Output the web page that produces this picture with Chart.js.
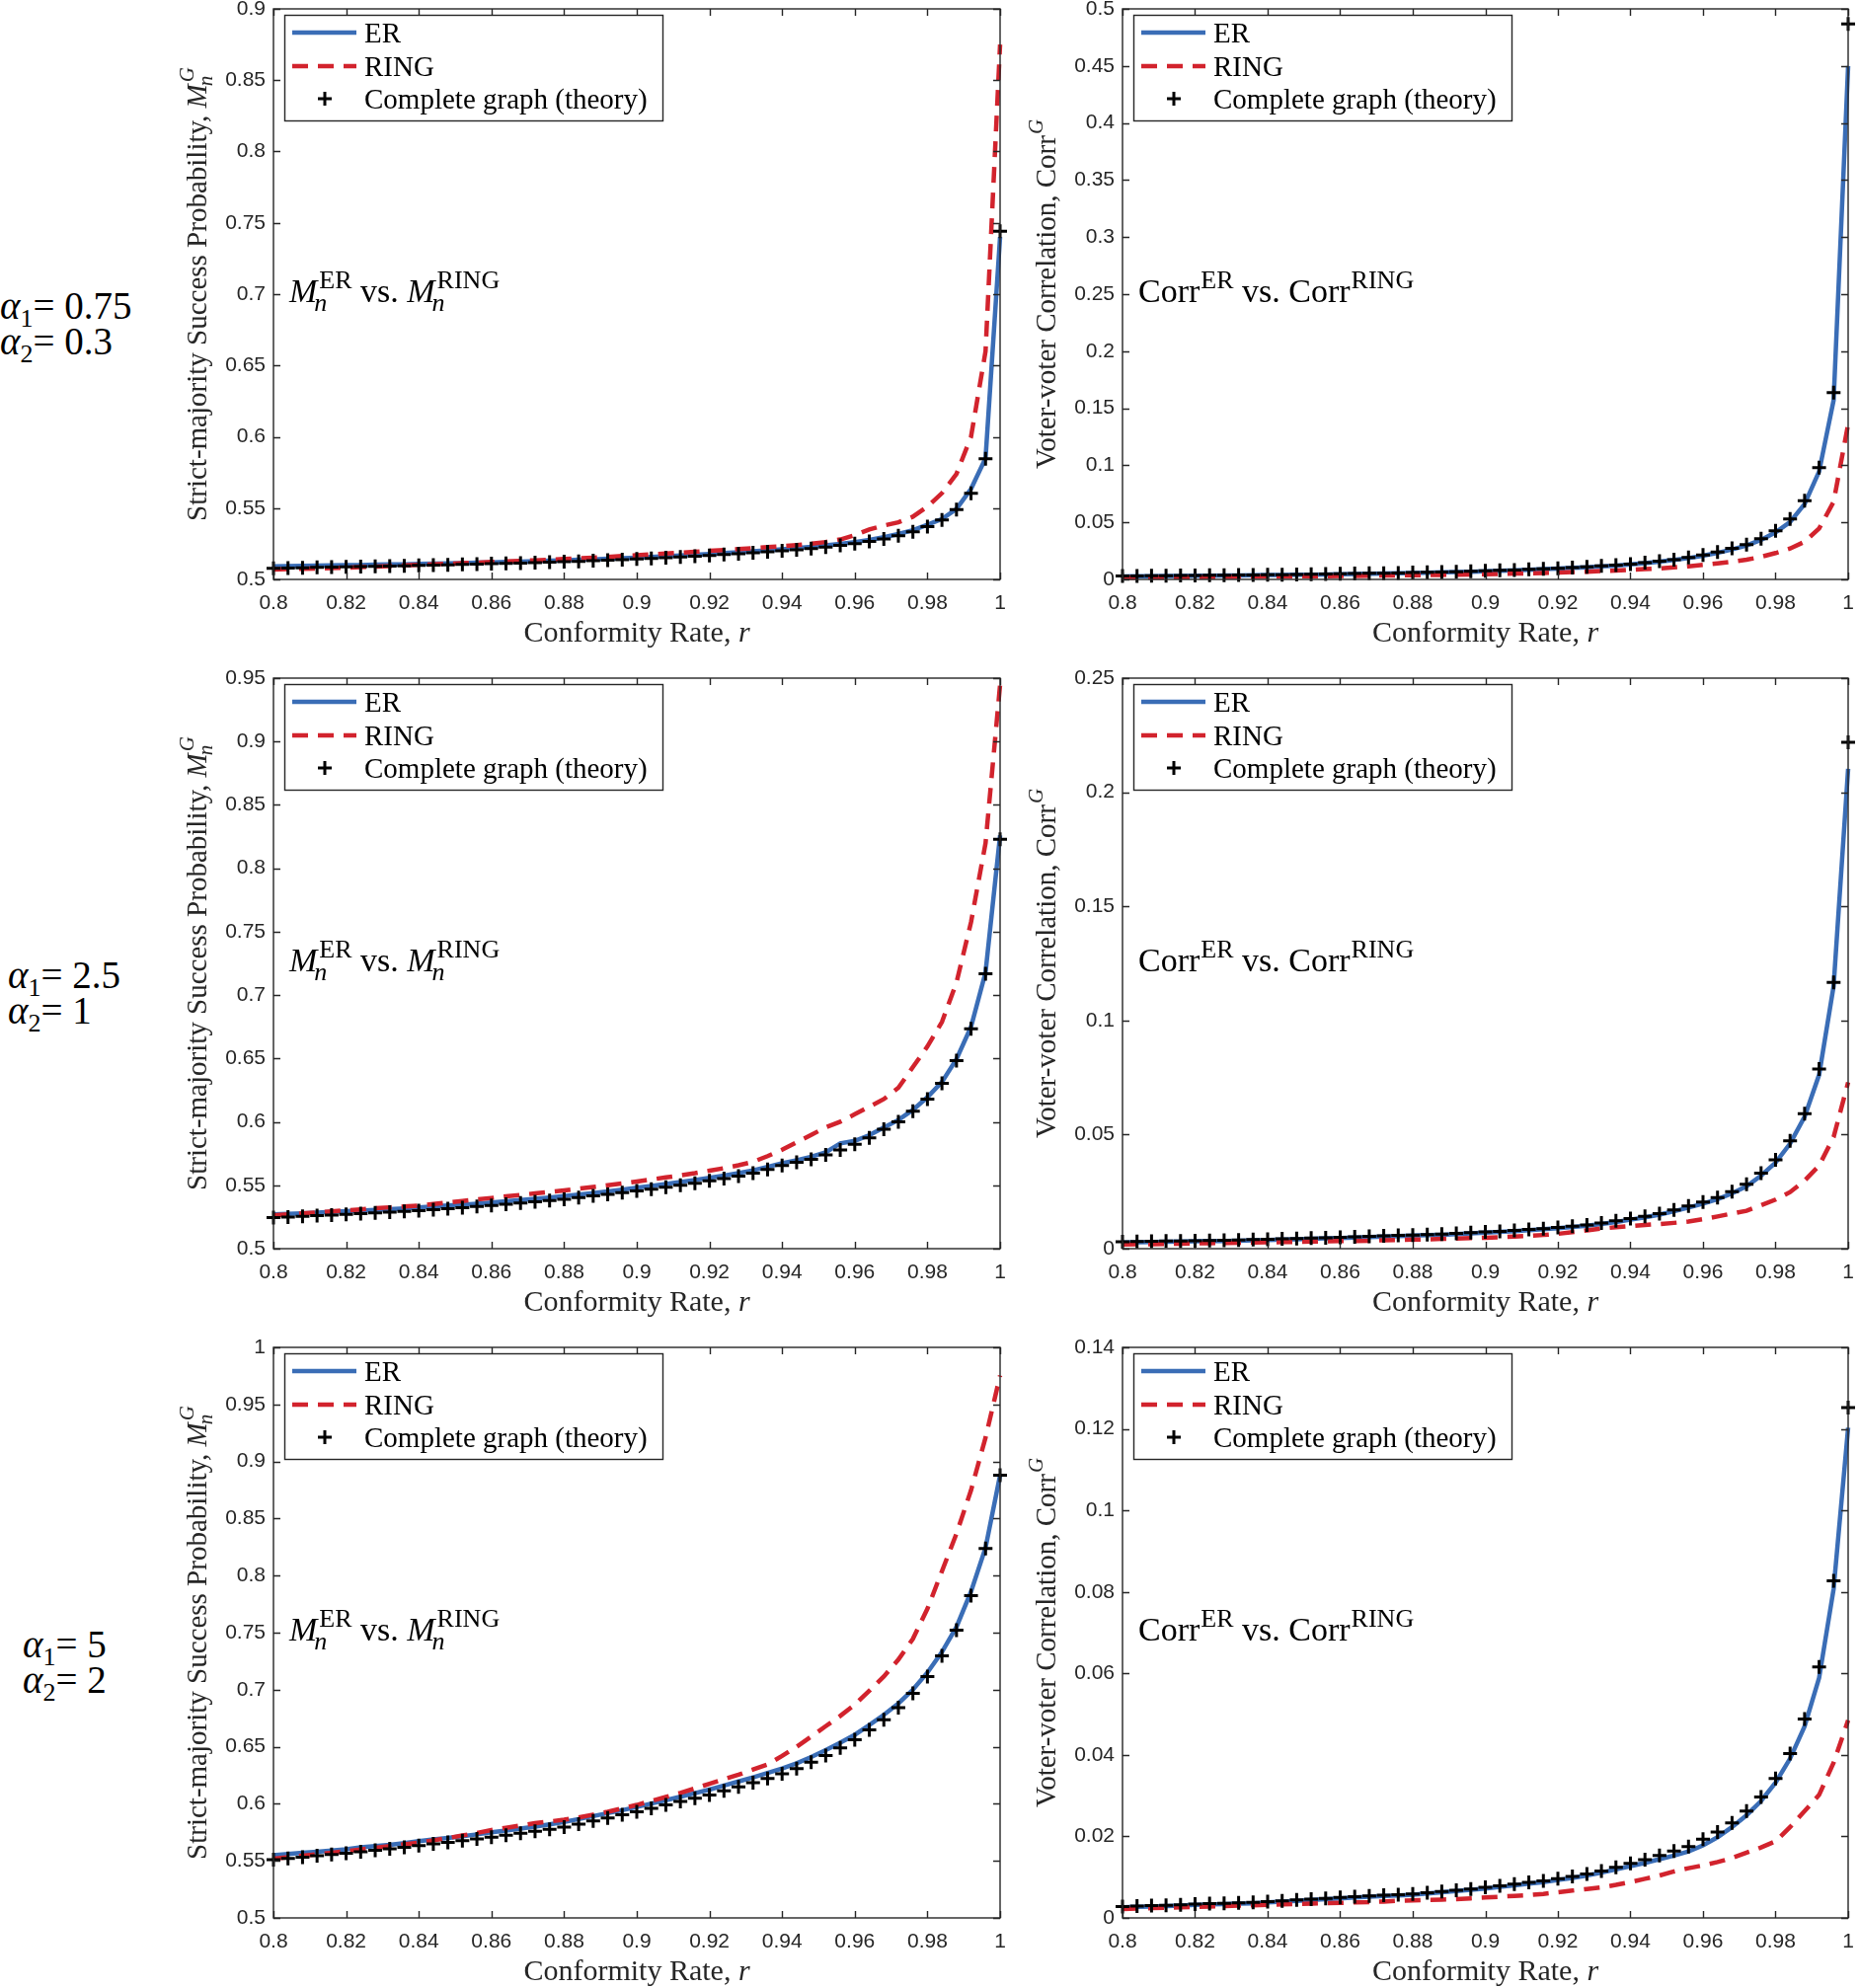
<!DOCTYPE html>
<html>
<head>
<meta charset="utf-8">
<script src="https://cdn.jsdelivr.net/npm/chart.js@4.4.1/dist/chart.umd.min.js"></script>
<style>
html, body { margin: 0; padding: 0; background: #fff; width: 1883px; height: 2014px; overflow: hidden; }
.panel { position: absolute; }
.alab { position: absolute; font-family: 'Liberation Serif', 'Times New Roman', serif; font-size: 39px; line-height: 36px; color: #000; white-space: nowrap; }
.alab sub { font-size: 26px; vertical-align: baseline; position: relative; top: 8px; }
</style>
</head>
<body>
<div class="alab" style="left:0px;top:292px"><i>α</i><sub>1</sub>= 0.75</div>
<div class="alab" style="left:0px;top:328px"><i>α</i><sub>2</sub>= 0.3</div>
<div class="alab" style="left:8px;top:970px"><i>α</i><sub>1</sub>= 2.5</div>
<div class="alab" style="left:8px;top:1006px"><i>α</i><sub>2</sub>= 1</div>
<div class="alab" style="left:23px;top:1648px"><i>α</i><sub>1</sub>= 5</div>
<div class="alab" style="left:23px;top:1684px"><i>α</i><sub>2</sub>= 2</div>

<div class="panel" id="p0"><canvas id="c0"></canvas></div>
<div class="panel" id="p1"><canvas id="c1"></canvas></div>
<div class="panel" id="p2"><canvas id="c2"></canvas></div>
<div class="panel" id="p3"><canvas id="c3"></canvas></div>
<div class="panel" id="p4"><canvas id="c4"></canvas></div>
<div class="panel" id="p5"><canvas id="c5"></canvas></div>

<script>
// conformity rate r, one point every 0.004
const rValues = [
  0.800, 0.804, 0.808, 0.812, 0.816, 0.820, 0.824, 0.828, 0.832, 0.836,
  0.840, 0.844, 0.848, 0.852, 0.856, 0.860, 0.864, 0.868, 0.872, 0.876,
  0.880, 0.884, 0.888, 0.892, 0.896, 0.900, 0.904, 0.908, 0.912, 0.916,
  0.920, 0.924, 0.928, 0.932, 0.936, 0.940, 0.944, 0.948, 0.952, 0.956,
  0.960, 0.964, 0.968, 0.972, 0.976, 0.980, 0.984, 0.988, 0.992, 0.996,
  1.000];

const xTicks = [0.8, 0.82, 0.84, 0.86, 0.88, 0.9, 0.92, 0.94, 0.96, 0.98, 1];
const xTickLabels = ['0.8', '0.82', '0.84', '0.86', '0.88', '0.9', '0.92', '0.94', '0.96', '0.98', '1'];

// alpha1 = 0.75, alpha2 = 0.3
const mER1 = [
  0.5092, 0.5093, 0.5095, 0.5097, 0.5098, 0.5100, 0.5101, 0.5103, 0.5105, 0.5106,
  0.5109, 0.5110, 0.5112, 0.5115, 0.5117, 0.5120, 0.5122, 0.5125, 0.5128, 0.5131,
  0.5134, 0.5138, 0.5141, 0.5145, 0.5149, 0.5153, 0.5158, 0.5163, 0.5168, 0.5173,
  0.5179, 0.5185, 0.5191, 0.5197, 0.5204, 0.5211, 0.5219, 0.5228, 0.5238, 0.5249,
  0.5262, 0.5277, 0.5296, 0.5318, 0.5345, 0.5383, 0.5423, 0.5494, 0.5635, 0.5850,
  0.7400];
const mRING1 = [
  0.5070, 0.5072, 0.5074, 0.5077, 0.5080, 0.5083, 0.5086, 0.5090, 0.5094, 0.5098,
  0.5102, 0.5106, 0.5110, 0.5114, 0.5118, 0.5122, 0.5126, 0.5130, 0.5134, 0.5138,
  0.5143, 0.5148, 0.5153, 0.5158, 0.5164, 0.5170, 0.5176, 0.5182, 0.5188, 0.5194,
  0.5200, 0.5206, 0.5212, 0.5219, 0.5226, 0.5233, 0.5241, 0.5250, 0.5262, 0.5280,
  0.5310, 0.5350, 0.5378, 0.5400, 0.5440, 0.5510, 0.5605, 0.5740, 0.6000, 0.6600,
  0.8750];
const mTheory1 = [
  0.5078, 0.5080, 0.5082, 0.5084, 0.5086, 0.5088, 0.5090, 0.5092, 0.5094, 0.5096,
  0.5098, 0.5100, 0.5102, 0.5105, 0.5107, 0.5110, 0.5112, 0.5115, 0.5118, 0.5121,
  0.5124, 0.5127, 0.5131, 0.5135, 0.5139, 0.5143, 0.5147, 0.5152, 0.5157, 0.5162,
  0.5168, 0.5174, 0.5180, 0.5186, 0.5193, 0.5200, 0.5208, 0.5217, 0.5227, 0.5238,
  0.5251, 0.5266, 0.5284, 0.5306, 0.5334, 0.5370, 0.5417, 0.5489, 0.5603, 0.5846,
  0.7442];
const cER1 = [
  0.0027, 0.0028, 0.0029, 0.0030, 0.0031, 0.0032, 0.0033, 0.0034, 0.0035, 0.0036,
  0.0038, 0.0039, 0.0041, 0.0042, 0.0044, 0.0046, 0.0048, 0.0050, 0.0052, 0.0054,
  0.0057, 0.0059, 0.0062, 0.0065, 0.0068, 0.0072, 0.0076, 0.0080, 0.0085, 0.0090,
  0.0095, 0.0101, 0.0107, 0.0114, 0.0122, 0.0131, 0.0142, 0.0155, 0.0170, 0.0187,
  0.0208, 0.0233, 0.0263, 0.0298, 0.0347, 0.0413, 0.0503, 0.0661, 0.0946, 0.1570,
  0.4500];
const cRING1 = [
  0.0015, 0.0016, 0.0017, 0.0018, 0.0019, 0.0020, 0.0021, 0.0022, 0.0023, 0.0024,
  0.0025, 0.0026, 0.0027, 0.0028, 0.0029, 0.0030, 0.0031, 0.0033, 0.0034, 0.0035,
  0.0037, 0.0038, 0.0040, 0.0042, 0.0044, 0.0046, 0.0048, 0.0051, 0.0054, 0.0057,
  0.0060, 0.0064, 0.0068, 0.0073, 0.0078, 0.0084, 0.0090, 0.0097, 0.0105, 0.0115,
  0.0127, 0.0140, 0.0155, 0.0173, 0.0198, 0.0231, 0.0271, 0.0330, 0.0446, 0.0680,
  0.1360];
const cTheory1 = [
  0.0030, 0.0031, 0.0032, 0.0033, 0.0034, 0.0035, 0.0036, 0.0037, 0.0038, 0.0039,
  0.0041, 0.0042, 0.0044, 0.0045, 0.0047, 0.0049, 0.0051, 0.0053, 0.0055, 0.0057,
  0.0060, 0.0062, 0.0065, 0.0068, 0.0071, 0.0075, 0.0079, 0.0083, 0.0088, 0.0093,
  0.0098, 0.0104, 0.0111, 0.0118, 0.0126, 0.0135, 0.0146, 0.0159, 0.0174, 0.0192,
  0.0214, 0.0240, 0.0272, 0.0305, 0.0357, 0.0425, 0.0530, 0.0690, 0.0980, 0.1637,
  0.4868];

// alpha1 = 2.5, alpha2 = 1
const mER2 = [
  0.5270, 0.5274, 0.5279, 0.5284, 0.5290, 0.5295, 0.5300, 0.5306, 0.5312, 0.5318,
  0.5325, 0.5332, 0.5340, 0.5347, 0.5355, 0.5364, 0.5373, 0.5383, 0.5393, 0.5403,
  0.5414, 0.5426, 0.5439, 0.5452, 0.5466, 0.5480, 0.5495, 0.5510, 0.5526, 0.5542,
  0.5558, 0.5576, 0.5596, 0.5618, 0.5645, 0.5673, 0.5698, 0.5725, 0.5760, 0.5830,
  0.5850, 0.5895, 0.5955, 0.6015, 0.6095, 0.6195, 0.6315, 0.6495, 0.6750, 0.7180,
  0.8260];
const mRING2 = [
  0.5262, 0.5270, 0.5278, 0.5286, 0.5294, 0.5302, 0.5310, 0.5318, 0.5326, 0.5333,
  0.5340, 0.5352, 0.5364, 0.5376, 0.5388, 0.5400, 0.5412, 0.5424, 0.5436, 0.5448,
  0.5460, 0.5473, 0.5486, 0.5500, 0.5514, 0.5530, 0.5546, 0.5562, 0.5578, 0.5595,
  0.5615, 0.5635, 0.5658, 0.5685, 0.5730, 0.5780, 0.5840, 0.5897, 0.5957, 0.6001,
  0.6060, 0.6120, 0.6180, 0.6269, 0.6432, 0.6595, 0.6788, 0.7100, 0.7575, 0.8199,
  0.9447];
const mTheory2 = [
  0.5245, 0.5250, 0.5255, 0.5260, 0.5265, 0.5270, 0.5276, 0.5282, 0.5288, 0.5294,
  0.5300, 0.5308, 0.5316, 0.5324, 0.5332, 0.5340, 0.5350, 0.5360, 0.5370, 0.5380,
  0.5390, 0.5403, 0.5416, 0.5429, 0.5442, 0.5455, 0.5470, 0.5485, 0.5500, 0.5515,
  0.5535, 0.5553, 0.5572, 0.5595, 0.5625, 0.5655, 0.5682, 0.5705, 0.5740, 0.5779,
  0.5823, 0.5874, 0.5942, 0.6001, 0.6085, 0.6180, 0.6304, 0.6483, 0.6735, 0.7169,
  0.8229];
const cER2 = [
  0.0027, 0.0028, 0.0029, 0.0030, 0.0031, 0.0032, 0.0033, 0.0034, 0.0035, 0.0037,
  0.0038, 0.0040, 0.0041, 0.0043, 0.0045, 0.0047, 0.0049, 0.0051, 0.0053, 0.0055,
  0.0057, 0.0059, 0.0061, 0.0064, 0.0067, 0.0070, 0.0073, 0.0077, 0.0081, 0.0085,
  0.0090, 0.0095, 0.0101, 0.0108, 0.0117, 0.0127, 0.0137, 0.0149, 0.0164, 0.0180,
  0.0197, 0.0217, 0.0242, 0.0273, 0.0320, 0.0377, 0.0460, 0.0578, 0.0762, 0.1151,
  0.2103];
const cRING2 = [
  0.0018, 0.0019, 0.0020, 0.0021, 0.0022, 0.0023, 0.0024, 0.0025, 0.0026, 0.0027,
  0.0028, 0.0029, 0.0030, 0.0031, 0.0032, 0.0033, 0.0034, 0.0035, 0.0037, 0.0038,
  0.0040, 0.0041, 0.0043, 0.0044, 0.0046, 0.0048, 0.0050, 0.0053, 0.0056, 0.0060,
  0.0065, 0.0072, 0.0080, 0.0088, 0.0094, 0.0099, 0.0104, 0.0108, 0.0113, 0.0119,
  0.0129, 0.0141, 0.0154, 0.0166, 0.0190, 0.0215, 0.0248, 0.0298, 0.0364, 0.0489,
  0.0729];
const cTheory2 = [
  0.0030, 0.0031, 0.0032, 0.0033, 0.0034, 0.0035, 0.0036, 0.0037, 0.0038, 0.0040,
  0.0041, 0.0043, 0.0044, 0.0046, 0.0048, 0.0050, 0.0052, 0.0054, 0.0056, 0.0058,
  0.0060, 0.0062, 0.0064, 0.0067, 0.0070, 0.0073, 0.0076, 0.0080, 0.0084, 0.0088,
  0.0093, 0.0098, 0.0104, 0.0112, 0.0122, 0.0132, 0.0142, 0.0154, 0.0170, 0.0187,
  0.0204, 0.0224, 0.0250, 0.0282, 0.0331, 0.0389, 0.0472, 0.0591, 0.0787, 0.1167,
  0.2219];

// alpha1 = 5, alpha2 = 2
const mER3 = [
  0.5550, 0.5560, 0.5570, 0.5580, 0.5590, 0.5602, 0.5618, 0.5630, 0.5641, 0.5655,
  0.5672, 0.5687, 0.5700, 0.5715, 0.5732, 0.5750, 0.5766, 0.5783, 0.5800, 0.5820,
  0.5842, 0.5866, 0.5892, 0.5918, 0.5944, 0.5972, 0.6002, 0.6032, 0.6062, 0.6093,
  0.6125, 0.6160, 0.6196, 0.6232, 0.6270, 0.6310, 0.6355, 0.6410, 0.6470, 0.6535,
  0.6605, 0.6690, 0.6780, 0.6880, 0.7000, 0.7150, 0.7330, 0.7550, 0.7860, 0.8245,
  0.8880];
const mRING3 = [
  0.5520, 0.5532, 0.5545, 0.5558, 0.5571, 0.5585, 0.5600, 0.5615, 0.5630, 0.5645,
  0.5660, 0.5680, 0.5700, 0.5722, 0.5745, 0.5770, 0.5790, 0.5810, 0.5830, 0.5845,
  0.5860, 0.5880, 0.5905, 0.5930, 0.5960, 0.5990, 0.6025, 0.6060, 0.6095, 0.6135,
  0.6175, 0.6215, 0.6255, 0.6300, 0.6345, 0.6420, 0.6500, 0.6589, 0.6680, 0.6770,
  0.6869, 0.6990, 0.7116, 0.7264, 0.7446, 0.7709, 0.8039, 0.8368, 0.8748, 0.9209,
  0.9753];
const mTheory3 = [
  0.5511, 0.5522, 0.5533, 0.5544, 0.5555, 0.5567, 0.5580, 0.5593, 0.5606, 0.5619,
  0.5633, 0.5648, 0.5662, 0.5677, 0.5692, 0.5707, 0.5724, 0.5741, 0.5759, 0.5777,
  0.5796, 0.5822, 0.5849, 0.5876, 0.5903, 0.5930, 0.5960, 0.5990, 0.6020, 0.6049,
  0.6078, 0.6113, 0.6148, 0.6185, 0.6222, 0.6262, 0.6308, 0.6365, 0.6424, 0.6490,
  0.6562, 0.6648, 0.6737, 0.6842, 0.6968, 0.7116, 0.7297, 0.7521, 0.7825, 0.8237,
  0.8879];
const cER3 = [
  0.0026, 0.0027, 0.0028, 0.0029, 0.0030, 0.0032, 0.0033, 0.0034, 0.0035, 0.0036,
  0.0038, 0.0040, 0.0042, 0.0044, 0.0046, 0.0048, 0.0050, 0.0052, 0.0054, 0.0055,
  0.0057, 0.0060, 0.0063, 0.0066, 0.0069, 0.0072, 0.0076, 0.0080, 0.0084, 0.0088,
  0.0093, 0.0098, 0.0104, 0.0111, 0.0119, 0.0127, 0.0135, 0.0144, 0.0153, 0.0163,
  0.0178, 0.0198, 0.0223, 0.0252, 0.0287, 0.0332, 0.0391, 0.0470, 0.0589, 0.0807,
  0.1203];
const cRING3 = [
  0.0022, 0.0023, 0.0024, 0.0025, 0.0026, 0.0027, 0.0028, 0.0029, 0.0030, 0.0031,
  0.0032, 0.0033, 0.0034, 0.0035, 0.0036, 0.0037, 0.0038, 0.0039, 0.0040, 0.0042,
  0.0043, 0.0044, 0.0045, 0.0046, 0.0048, 0.0050, 0.0052, 0.0054, 0.0056, 0.0059,
  0.0063, 0.0067, 0.0071, 0.0075, 0.0081, 0.0088, 0.0096, 0.0104, 0.0114, 0.0122,
  0.0129, 0.0137, 0.0147, 0.0160, 0.0173, 0.0188, 0.0223, 0.0262, 0.0302, 0.0381,
  0.0485];
const cTheory3 = [
  0.0028, 0.0029, 0.0030, 0.0031, 0.0032, 0.0034, 0.0035, 0.0036, 0.0037, 0.0038,
  0.0040, 0.0042, 0.0044, 0.0046, 0.0048, 0.0050, 0.0052, 0.0054, 0.0056, 0.0057,
  0.0059, 0.0062, 0.0065, 0.0068, 0.0071, 0.0075, 0.0079, 0.0083, 0.0087, 0.0091,
  0.0096, 0.0102, 0.0108, 0.0115, 0.0124, 0.0134, 0.0143, 0.0153, 0.0164, 0.0175,
  0.0193, 0.0211, 0.0233, 0.0262, 0.0297, 0.0342, 0.0403, 0.0488, 0.0616, 0.0827,
  0.1252];

// y tick positions and labels per panel
const yTicksM1 = [0.5, 0.55, 0.6, 0.65, 0.7, 0.75, 0.8, 0.85, 0.9];
const yLabelsM1 = ['0.5', '0.55', '0.6', '0.65', '0.7', '0.75', '0.8', '0.85', '0.9'];
const yTicksC1 = [0, 0.05, 0.1, 0.15, 0.2, 0.25, 0.3, 0.35, 0.4, 0.45, 0.5];
const yLabelsC1 = ['0', '0.05', '0.1', '0.15', '0.2', '0.25', '0.3', '0.35', '0.4', '0.45', '0.5'];
const yTicksM2 = [0.5, 0.55, 0.6, 0.65, 0.7, 0.75, 0.8, 0.85, 0.9, 0.95];
const yLabelsM2 = ['0.5', '0.55', '0.6', '0.65', '0.7', '0.75', '0.8', '0.85', '0.9', '0.95'];
const yTicksC2 = [0, 0.05, 0.1, 0.15, 0.2, 0.25];
const yLabelsC2 = ['0', '0.05', '0.1', '0.15', '0.2', '0.25'];
const yTicksM3 = [0.5, 0.55, 0.6, 0.65, 0.7, 0.75, 0.8, 0.85, 0.9, 0.95, 1];
const yLabelsM3 = ['0.5', '0.55', '0.6', '0.65', '0.7', '0.75', '0.8', '0.85', '0.9', '0.95', '1'];
const yTicksC3 = [0, 0.02, 0.04, 0.06, 0.08, 0.1, 0.12, 0.14];
const yLabelsC3 = ['0', '0.02', '0.04', '0.06', '0.08', '0.1', '0.12', '0.14'];

const SERIF = "'Liberation Serif', 'Times New Roman', serif";
const SANS = "'Liberation Sans', Arial, Helvetica, sans-serif";
const AXIS_COLOR = '#262626';
const ER_COLOR = '#3A6DB6';
const RING_COLOR = '#D2232D';

function f(size, italic) {
  return (italic ? 'italic ' : '') + size + 'px ' + SERIF;
}

// texts with sub/superscripts, as lists of pieces
const yTitleM = [
  { t: 'Strict-majority Success Probability, ', f: f(29) },
  { t: 'M', f: f(29, true) },
  { stack: [{ t: 'n', f: f(21, true), dy: 6, dx: -2 }, { t: 'G', f: f(21, true), dy: -13, dx: 2 }] }
];
const yTitleC = [
  { t: 'Voter-voter Correlation, Corr', f: f(29) },
  { stack: [{ t: 'G', f: f(21, true), dy: -13, dx: 1 }] }
];
const xTitle = [
  { t: 'Conformity Rate, ', f: f(30) },
  { t: 'r', f: f(30, true) }
];
const noteM = [
  { t: 'M', f: f(34, true) },
  { stack: [{ t: 'n', f: f(26, true), dy: 9, dx: -3 }, { t: 'ER', f: f(26), dy: -14, dx: 2 }] },
  { t: ' vs. ', f: f(34) },
  { t: 'M', f: f(34, true) },
  { stack: [{ t: 'n', f: f(26, true), dy: 9, dx: -3 }, { t: 'RING', f: f(26), dy: -14, dx: 2 }] }
];
const noteC = [
  { t: 'Corr', f: f(34) },
  { stack: [{ t: 'ER', f: f(26), dy: -14, dx: 1 }] },
  { t: ' vs. Corr', f: f(34) },
  { stack: [{ t: 'RING', f: f(26), dy: -14, dx: 1 }] }
];

function measureSegs(ctx, segs) {
  let w = 0;
  segs.forEach(s => {
    if (s.stack) {
      let m = 0;
      s.stack.forEach(p => { ctx.font = p.f; m = Math.max(m, ctx.measureText(p.t).width + (p.dx || 0)); });
      w += m;
    } else {
      ctx.font = s.f;
      w += ctx.measureText(s.t).width;
    }
  });
  return w;
}

function drawSegs(ctx, segs, x, y) {
  segs.forEach(s => {
    if (s.stack) {
      let m = 0;
      s.stack.forEach(p => {
        ctx.font = p.f;
        ctx.fillText(p.t, x + (p.dx || 0), y + p.dy);
        m = Math.max(m, ctx.measureText(p.t).width + (p.dx || 0));
      });
      x += m;
    } else {
      ctx.font = s.f;
      ctx.fillText(s.t, x, y);
      x += ctx.measureText(s.t).width;
    }
  });
}

// box, inward ticks, axis titles, note and legend
const decoPlugin = {
  id: 'deco',
  afterDraw(chart, args, opts) {
    const ctx = chart.ctx;
    const a = chart.chartArea;
    const xs = chart.scales.x;
    const ys = chart.scales.y;
    ctx.save();
    ctx.strokeStyle = AXIS_COLOR;
    ctx.lineWidth = 1.4;
    ctx.strokeRect(a.left, a.top, a.right - a.left, a.bottom - a.top);
    ctx.beginPath();
    xs.ticks.forEach(t => {
      const px = Math.round(xs.getPixelForValue(t.value)) + 0.5;
      ctx.moveTo(px, a.bottom); ctx.lineTo(px, a.bottom - 7);
      ctx.moveTo(px, a.top); ctx.lineTo(px, a.top + 7);
    });
    ys.ticks.forEach(t => {
      const py = Math.round(ys.getPixelForValue(t.value)) + 0.5;
      ctx.moveTo(a.left, py); ctx.lineTo(a.left + 7, py);
      ctx.moveTo(a.right, py); ctx.lineTo(a.right - 7, py);
    });
    ctx.stroke();

    ctx.fillStyle = AXIS_COLOR;
    ctx.textAlign = 'left';
    ctx.textBaseline = 'alphabetic';

    // x title
    const wx = measureSegs(ctx, xTitle);
    drawSegs(ctx, xTitle, (a.left + a.right) / 2 - wx / 2, a.bottom + 63);

    // y title, rotated
    const wy = measureSegs(ctx, opts.yTitle);
    ctx.save();
    ctx.translate(a.left - 68, (a.top + a.bottom) / 2);
    ctx.rotate(-Math.PI / 2);
    drawSegs(ctx, opts.yTitle, -wy / 2, 0);
    ctx.restore();

    // note in the middle of the plot
    ctx.fillStyle = '#000';
    drawSegs(ctx, opts.note, a.left + 16, (a.top + a.bottom) / 2 + 8);

    // legend
    const bx = a.left + 11, by = a.top + 6;
    ctx.fillStyle = '#fff';
    ctx.fillRect(bx, by, 383, 107);
    ctx.strokeStyle = AXIS_COLOR;
    ctx.lineWidth = 1.4;
    ctx.strokeRect(bx + 0.5, by + 0.5, 383, 107);
    const ds = chart.data.datasets;
    ctx.lineWidth = ds[0].borderWidth;
    ctx.strokeStyle = ds[0].borderColor;
    ctx.beginPath(); ctx.moveTo(bx + 8, by + 18); ctx.lineTo(bx + 73, by + 18); ctx.stroke();
    ctx.strokeStyle = ds[1].borderColor;
    ctx.setLineDash(ds[1].borderDash);
    ctx.beginPath(); ctx.moveTo(bx + 8, by + 52); ctx.lineTo(bx + 73, by + 52); ctx.stroke();
    ctx.setLineDash([]);
    ctx.strokeStyle = '#000';
    ctx.lineWidth = 3;
    ctx.beginPath();
    ctx.moveTo(bx + 34, by + 85); ctx.lineTo(bx + 48, by + 85);
    ctx.moveTo(bx + 41, by + 78); ctx.lineTo(bx + 41, by + 92);
    ctx.stroke();
    ctx.fillStyle = '#000';
    ctx.font = f(29);
    ctx.fillText(ds[0].label, bx + 81, by + 28);
    ctx.fillText(ds[1].label, bx + 81, by + 62);
    ctx.fillText(ds[2].label, bx + 81, by + 95);
    ctx.restore();
  }
};

function toPts(vals) {
  return rValues.map((r, i) => ({ x: r, y: vals[i] }));
}

const colLeft = [277, 1137];
const colWidth = [736, 735];
const rowTop = [9, 687, 1365];
const plotH = 578;
const padTop = 24, yAxisW = 100, xAxisH = 75, padRight = 20;

const panels = [
  { row: 0, col: 0, er: mER1, ring: mRING1, theory: mTheory1, yMin: 0.5, yMax: 0.9, yTicks: yTicksM1, yLabels: yLabelsM1, yTitle: yTitleM, note: noteM },
  { row: 0, col: 1, er: cER1, ring: cRING1, theory: cTheory1, yMin: 0, yMax: 0.5, yTicks: yTicksC1, yLabels: yLabelsC1, yTitle: yTitleC, note: noteC },
  { row: 1, col: 0, er: mER2, ring: mRING2, theory: mTheory2, yMin: 0.5, yMax: 0.95, yTicks: yTicksM2, yLabels: yLabelsM2, yTitle: yTitleM, note: noteM },
  { row: 1, col: 1, er: cER2, ring: cRING2, theory: cTheory2, yMin: 0, yMax: 0.25, yTicks: yTicksC2, yLabels: yLabelsC2, yTitle: yTitleC, note: noteC },
  { row: 2, col: 0, er: mER3, ring: mRING3, theory: mTheory3, yMin: 0.5, yMax: 1, yTicks: yTicksM3, yLabels: yLabelsM3, yTitle: yTitleM, note: noteM },
  { row: 2, col: 1, er: cER3, ring: cRING3, theory: cTheory3, yMin: 0, yMax: 0.14, yTicks: yTicksC3, yLabels: yLabelsC3, yTitle: yTitleC, note: noteC }
];

panels.forEach((p, k) => {
  const box = document.getElementById('p' + k);
  const canvas = document.getElementById('c' + k);
  const w = yAxisW + colWidth[p.col] + padRight;
  const h = padTop + plotH + xAxisH;
  box.style.left = (colLeft[p.col] - yAxisW) + 'px';
  box.style.top = (rowTop[p.row] - padTop) + 'px';
  box.style.width = w + 'px';
  box.style.height = h + 'px';
  canvas.width = w;
  canvas.height = h;
  canvas.style.width = w + 'px';
  canvas.style.height = h + 'px';

  new Chart(canvas, {
    type: 'line',
    data: {
      datasets: [
        { label: 'ER', data: toPts(p.er), borderColor: ER_COLOR, borderWidth: 4.5, pointRadius: 0, fill: false, tension: 0, order: 3, clip: false },
        { label: 'RING', data: toPts(p.ring), borderColor: RING_COLOR, borderWidth: 4.5, borderDash: [16, 10], pointRadius: 0, fill: false, tension: 0, order: 2, clip: false },
        { label: 'Complete graph (theory)', data: toPts(p.theory), showLine: false, pointStyle: 'cross', pointRadius: 7, pointBorderWidth: 3, borderColor: '#000', pointBorderColor: '#000', backgroundColor: '#000', order: 1, clip: false }
      ]
    },
    options: {
      responsive: false,
      animation: false,
      devicePixelRatio: 1,
      events: [],
      layout: { padding: { top: padTop, right: padRight, left: 0, bottom: 0 } },
      plugins: {
        legend: { display: false },
        tooltip: { enabled: false },
        deco: { yTitle: p.yTitle, note: p.note }
      },
      scales: {
        x: {
          type: 'linear',
          min: 0.8,
          max: 1,
          afterBuildTicks: s => { s.ticks = xTicks.map(v => ({ value: v })); },
          afterFit: s => { s.height = xAxisH; },
          grid: { display: false, drawTicks: false },
          border: { display: false },
          ticks: {
            autoSkip: false, maxRotation: 0, padding: 12, color: AXIS_COLOR,
            font: { family: SANS, size: 21 },
            callback: (v, i) => xTickLabels[i]
          }
        },
        y: {
          type: 'linear',
          min: p.yMin,
          max: p.yMax,
          afterBuildTicks: s => { s.ticks = p.yTicks.map(v => ({ value: v })); },
          afterFit: s => { s.width = yAxisW; },
          grid: { display: false, drawTicks: false },
          border: { display: false },
          ticks: {
            autoSkip: false, padding: 8, color: AXIS_COLOR,
            font: { family: SANS, size: 21 },
            callback: (v, i) => p.yLabels[i]
          }
        }
      }
    },
    plugins: [decoPlugin]
  });
});
</script>
</body>
</html>
